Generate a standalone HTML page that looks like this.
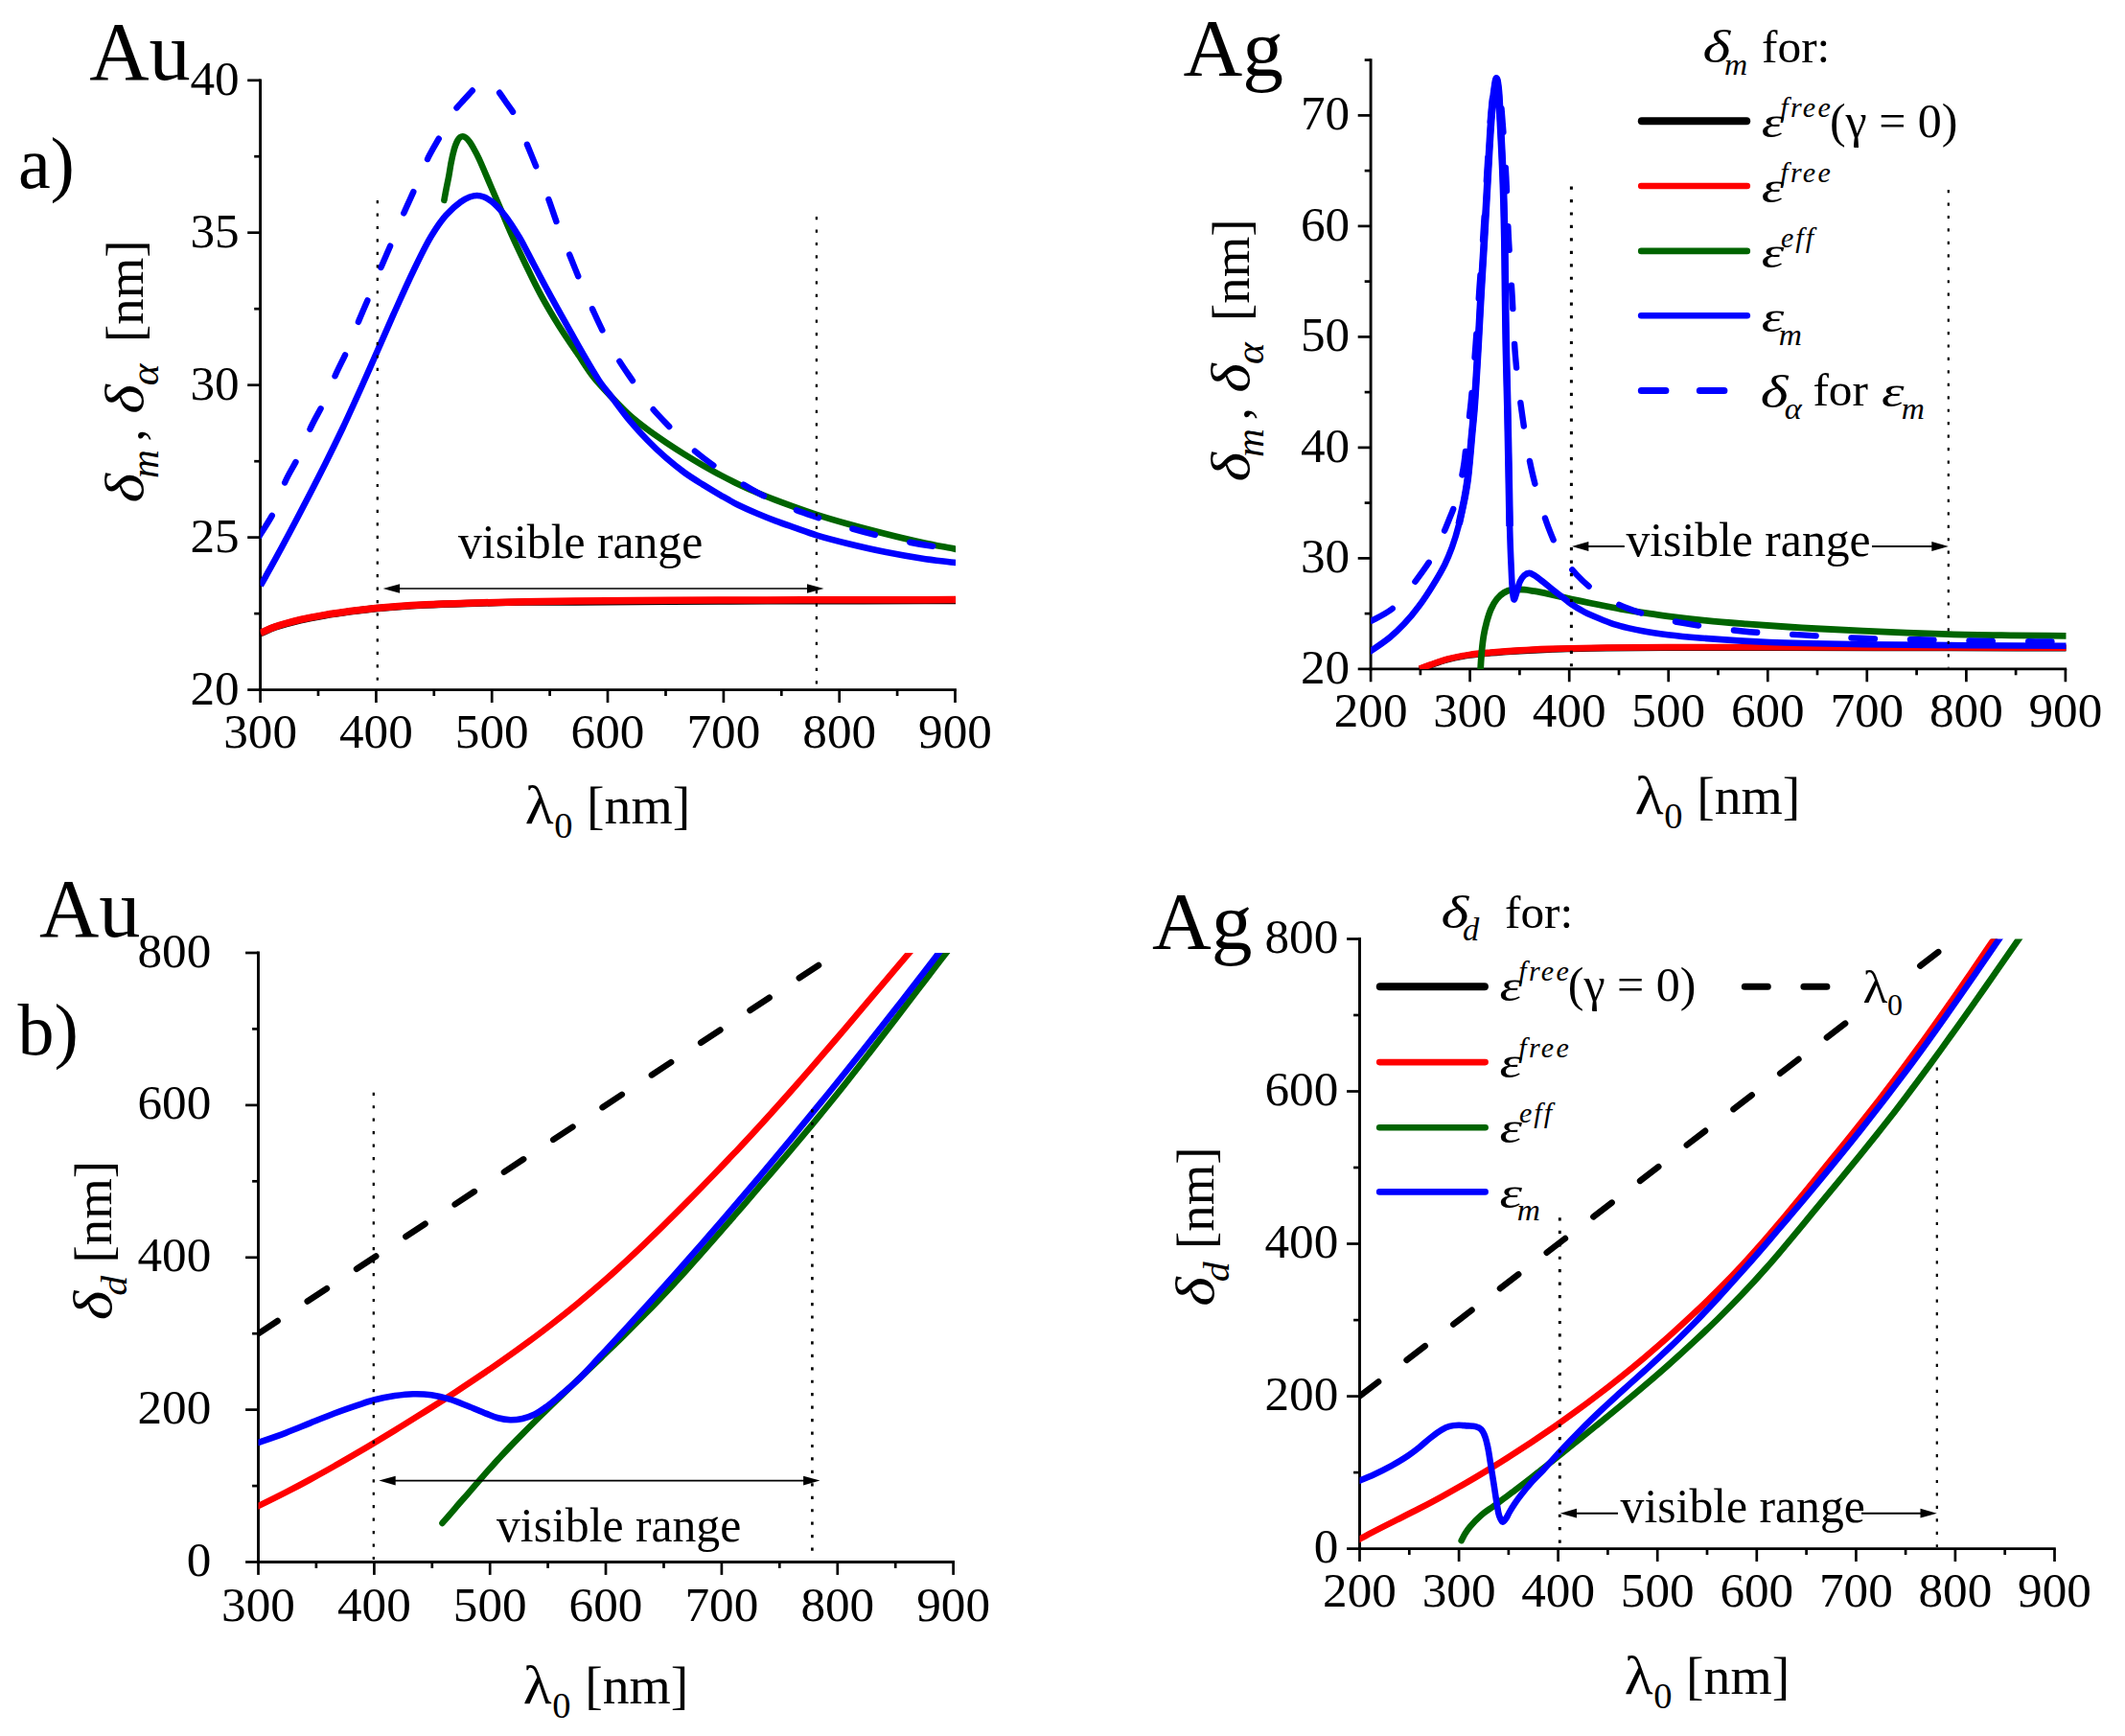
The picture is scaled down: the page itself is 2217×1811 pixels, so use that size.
<!DOCTYPE html>
<html lang="en">
<head>
<meta charset="utf-8">
<title>Penetration depths for Au and Ag</title>
<style>
html,body{margin:0;padding:0;background:#fff;}
body{width:2217px;height:1811px;overflow:hidden;}
svg{display:block;}
text{white-space:pre;}
</style>
</head>
<body>
<svg xmlns="http://www.w3.org/2000/svg" width="2217" height="1811" viewBox="0 0 2217 1811" font-family="'Liberation Serif', 'Times New Roman', serif" fill="#000">
<rect width="2217" height="1811" fill="#fff"/>
<defs>
<clipPath id="clip1"><rect x="271.6" y="83.8" width="725.5" height="635.9"/></clipPath>
<clipPath id="clip2"><rect x="1430.1" y="62.6" width="725.4" height="635.3"/></clipPath>
<clipPath id="clip3"><rect x="269.5" y="994" width="725.7" height="635.5"/></clipPath>
<clipPath id="clip4"><rect x="1418.5" y="979.5" width="725.6" height="636.1"/></clipPath>
</defs>
<line x1="271.6" y1="82.4" x2="271.6" y2="721.1" stroke="#000000" stroke-width="2.9" />
<line x1="270.2" y1="719.6" x2="997.9" y2="719.6" stroke="#000000" stroke-width="2.9" />
<line x1="271.6" y1="719.6" x2="271.6" y2="733" stroke="#000000" stroke-width="2.7" />
<text x="271.6" y="780.4" font-size="51.2" text-anchor="middle"  >300</text>
<line x1="392.4" y1="719.6" x2="392.4" y2="733" stroke="#000000" stroke-width="2.7" />
<text x="392.4" y="780.4" font-size="51.2" text-anchor="middle"  >400</text>
<line x1="513.2" y1="719.6" x2="513.2" y2="733" stroke="#000000" stroke-width="2.7" />
<text x="513.2" y="780.4" font-size="51.2" text-anchor="middle"  >500</text>
<line x1="634" y1="719.6" x2="634" y2="733" stroke="#000000" stroke-width="2.7" />
<text x="634" y="780.4" font-size="51.2" text-anchor="middle"  >600</text>
<line x1="754.9" y1="719.6" x2="754.9" y2="733" stroke="#000000" stroke-width="2.7" />
<text x="754.9" y="780.4" font-size="51.2" text-anchor="middle"  >700</text>
<line x1="875.7" y1="719.6" x2="875.7" y2="733" stroke="#000000" stroke-width="2.7" />
<text x="875.7" y="780.4" font-size="51.2" text-anchor="middle"  >800</text>
<line x1="996.5" y1="719.6" x2="996.5" y2="733" stroke="#000000" stroke-width="2.7" />
<text x="996.5" y="780.4" font-size="51.2" text-anchor="middle"  >900</text>
<line x1="332" y1="719.6" x2="332" y2="726" stroke="#000000" stroke-width="2.7" />
<line x1="452.8" y1="719.6" x2="452.8" y2="726" stroke="#000000" stroke-width="2.7" />
<line x1="573.6" y1="719.6" x2="573.6" y2="726" stroke="#000000" stroke-width="2.7" />
<line x1="694.5" y1="719.6" x2="694.5" y2="726" stroke="#000000" stroke-width="2.7" />
<line x1="815.3" y1="719.6" x2="815.3" y2="726" stroke="#000000" stroke-width="2.7" />
<line x1="936.1" y1="719.6" x2="936.1" y2="726" stroke="#000000" stroke-width="2.7" />
<line x1="258.2" y1="719.6" x2="271.6" y2="719.6" stroke="#000000" stroke-width="2.7" />
<text x="249.6" y="734.8" font-size="51.2" text-anchor="end"  >20</text>
<line x1="258.2" y1="560.6" x2="271.6" y2="560.6" stroke="#000000" stroke-width="2.7" />
<text x="249.6" y="575.8" font-size="51.2" text-anchor="end"  >25</text>
<line x1="258.2" y1="401.7" x2="271.6" y2="401.7" stroke="#000000" stroke-width="2.7" />
<text x="249.6" y="416.9" font-size="51.2" text-anchor="end"  >30</text>
<line x1="258.2" y1="242.7" x2="271.6" y2="242.7" stroke="#000000" stroke-width="2.7" />
<text x="249.6" y="257.9" font-size="51.2" text-anchor="end"  >35</text>
<line x1="258.2" y1="83.8" x2="271.6" y2="83.8" stroke="#000000" stroke-width="2.7" />
<text x="249.6" y="99" font-size="51.2" text-anchor="end"  >40</text>
<line x1="265.2" y1="640.1" x2="271.6" y2="640.1" stroke="#000000" stroke-width="2.7" />
<line x1="265.2" y1="481.2" x2="271.6" y2="481.2" stroke="#000000" stroke-width="2.7" />
<line x1="265.2" y1="322.2" x2="271.6" y2="322.2" stroke="#000000" stroke-width="2.7" />
<line x1="265.2" y1="163.2" x2="271.6" y2="163.2" stroke="#000000" stroke-width="2.7" />
<path d="M271.8,660.6 C277,658.4 281.4,656.2 287.3,654.1 C294.8,651.5 304.7,648.9 313.4,646.8 C322.1,644.8 330.8,643.3 339.5,641.8 C348.2,640.3 356.9,639.1 365.6,637.9 C374.3,636.7 381.5,635.8 391.7,634.8 C406.1,633.4 426.6,632 444,631.1 C461.4,630.2 478.8,629.8 496.2,629.3 C513.6,628.8 531,628.3 548.4,628.1 C565.6,627.9 580,628.1 600,628 C627.9,627.9 666.7,627.5 700,627.3 C733.3,627.1 766.7,627 800,626.9 C833.3,626.8 866.9,626.8 900,626.7 C932.7,626.7 965,626.6 997.5,626.6" fill="none" stroke="#000000" stroke-width="7.4" stroke-linejoin="round" stroke-linecap="butt" clip-path="url(#clip1)"/>
<path d="M271.8,660.2 C277,658 281.4,655.8 287.3,653.7 C294.8,651.1 304.7,648.5 313.4,646.4 C322.1,644.4 330.8,642.9 339.5,641.4 C348.2,639.9 356.9,638.7 365.6,637.5 C374.3,636.3 381.5,635.4 391.7,634.4 C406.1,633 426.6,631.6 444,630.7 C461.4,629.8 478.8,629.4 496.2,628.9 C513.6,628.4 531,628 548.4,627.7 C565.6,627.4 580,627.2 600,627 C627.9,626.7 666.7,626.5 700,626.3 C733.3,626.1 766.7,626 800,625.9 C833.3,625.8 866.9,625.8 900,625.7 C932.7,625.7 965,625.6 997.5,625.6" fill="none" stroke="#ff0000" stroke-width="7.5" stroke-linejoin="round" stroke-linecap="butt" clip-path="url(#clip1)"/>
<path d="M463.4,208.8 C464.1,204.9 464.8,201 465.6,197 C466.4,192.8 467.4,188.4 468.2,184.1 C469,179.8 469.6,175.2 470.4,171 C471.2,167 472,162.9 472.9,159.4 C473.6,156.5 474.3,153.9 475.2,151.5 C476,149.5 476.8,147.5 477.7,146 C478.4,144.9 479.1,143.8 480,143.2 C480.8,142.6 481.8,142.2 482.8,142.2 C483.8,142.2 485,142.9 486,143.6 C487.4,144.6 488.7,146.2 490,147.9 C491.6,150 493,152.8 494.5,155.5 C496.2,158.5 497.6,161.1 499.5,165.1 C502.6,171.7 507.2,182.8 511,191.7 C514.8,200.6 518.6,209.4 522.4,218.3 C526.2,227.2 529.6,235.6 533.8,244.9 C538.4,255.2 543.9,266.6 549,277.2 C554,287.5 558.7,297.4 564.2,307.6 C570,318.3 576.7,329.6 583.2,340 C589.4,349.9 596,359.4 602.2,368.5 C608,377 612.9,385.5 619,393.2 C624.9,400.7 631.6,407.4 638,414.1 C644.3,420.7 650.5,427.4 657,433.2 C663.2,438.7 669.6,443.6 676,448.4 C682.3,453.1 688.7,457.4 695.1,461.7 C701.4,465.9 707.7,470 714.1,474 C720.4,477.9 726.7,481.7 733.1,485.4 C739.4,489 745.7,492.6 752.1,495.9 C758.4,499.2 764.7,502.4 771.1,505.4 C777.4,508.4 783.7,511.3 790.1,514 C796.4,516.7 802.7,519.2 809.1,521.6 C815.4,524 821.4,526.2 828.1,528.6 C835.6,531.3 843.3,534 851.9,536.8 C862,540.1 873.7,543.5 885.2,546.7 C897.4,550.1 910.5,553.5 923.2,556.7 C935.8,559.9 948.7,563 961.2,565.7 C973.4,568.4 985.4,570.5 997.5,572.9" fill="none" stroke="#006400" stroke-width="6.6" stroke-linejoin="round" stroke-linecap="round" clip-path="url(#clip1)"/>
<path d="M271.8,611 C277,601.7 281.5,593.8 287.3,583.2 C294.9,569.2 304.8,550.7 313.4,534.2 C322.2,517.5 331.6,499.2 339.5,483.5 C346.2,470.1 351.6,459 357.8,446 C364.4,432 371.7,415.8 377.9,402 C383.4,389.8 387.9,379.4 393.1,367.6 C398.6,355 404.2,342.2 410.2,328.7 C416.8,314.1 424.1,297.4 431.1,283 C437.4,269.9 443.7,256.5 450.1,246 C455.2,237.7 459.9,230.6 465.3,224.5 C470.1,219.1 475.8,214 480.5,210.7 C483.9,208.3 486.9,206.6 490,205.5 C492.6,204.6 495.1,204 497.6,204 C500.1,204 502.6,204.6 505,205.5 C507.7,206.5 510.1,208 512.9,210.2 C517,213.4 521.9,218.6 526.2,224 C531.4,230.5 536.5,238.6 541.4,246.8 C546.7,255.6 551.5,265.8 556.6,275.3 C561.7,284.8 566.4,293.9 571.8,303.8 C577.7,314.7 584.6,327 590.8,338.1 C596.6,348.5 602.1,358.6 607.9,368.5 C613.5,378.2 619.5,388.8 625,397 C629.4,403.6 633.3,407.9 638,414.1 C643.7,421.6 650.5,431.1 657,438.9 C663.2,446.3 669.5,453.2 676,459.8 C682.2,466.2 688.6,472.2 695.1,477.8 C701.3,483.2 707.7,488.3 714.1,493 C720.3,497.5 726.7,501.4 733.1,505.4 C739.4,509.3 745.7,513.1 752.1,516.8 C758.4,520.4 764.7,524.1 771.1,527.3 C777.4,530.4 783.7,533.1 790.1,535.8 C796.4,538.5 802.7,541 809.1,543.4 C815.4,545.8 821.4,547.8 828.1,550.1 C835.6,552.7 843.3,555.7 851.9,558.3 C862,561.4 873.7,564.4 885.2,567.2 C897.4,570.2 910.5,573.2 923.2,575.7 C935.8,578.2 948.7,580.5 961.2,582.4 C973.4,584.3 985.4,585.5 997.5,587.1" fill="none" stroke="#0000ff" stroke-width="6.6" stroke-linejoin="round" stroke-linecap="butt" clip-path="url(#clip1)"/>
<path d="M268,563.5 C269.3,561.4 270.1,560 271.8,557.3 C275,552 281.8,542.3 286,533.6 C290.6,524.1 293.3,511.9 297.7,502.2 C301.7,493.3 306.5,486.4 310.8,477.4 C315.7,467.2 320.3,454.2 325.2,444 C329.5,435 334.1,427.8 338.2,419.1 C342.5,410.1 346.1,399.9 350.2,390.8 C354.1,382.1 358.3,374.5 362.2,365.6 C366.5,355.8 370.5,344.2 374.5,334.3 C378.2,325.3 381.7,317.5 385.4,308.6 C389.4,298.9 393.7,287.9 397.8,278.2 C401.6,269.2 405.2,261.2 409,252.2 C413.1,242.4 417.5,231.2 421.7,221.4 C425.6,212.4 429.4,204.7 433.3,195.7 C437.6,186 441.8,174.6 446.4,165.2 C450.5,156.8 454.9,149.9 459.4,141.8 C464.3,133.1 470,121.5 474.8,114.7 C478,110.2 480.9,107.7 484,104.2 C487.1,100.7 490.5,96.9 493.5,93.8 C496.1,91.2 498.5,88.4 501,86.8 C502.9,85.6 504.7,84.7 506.5,84.6 C508.2,84.5 509.8,85 511.5,86 C514.1,87.6 516.9,91.5 519.5,94.7 C522.4,98.3 525.2,102.7 528,106.8 C530.9,110.9 533.7,114.1 536.6,119.4 C540.9,127.4 545.8,140.8 549.9,150.8 C553.6,159.8 556.8,167.4 560.4,176.5 C564.4,186.6 569,198.6 572.7,208.8 C576,217.8 578.3,225.5 581.7,234.5 C585.5,244.7 590.5,256.7 594.6,266.8 C598.2,275.8 601.3,283.5 605,292.4 C609.1,302.1 614,313.4 618.3,322.9 C622.1,331.2 625.2,338.1 629.3,346.2 C633.9,355.2 639.4,365.5 644.7,374.2 C649.6,382.3 654.6,389.2 659.9,397 C665.6,405.3 671.6,414.8 677.9,422.7 C683.7,430 689.6,436 696,442.7 C702.9,449.9 710.3,457.7 717.9,464.5 C725.5,471.3 733.2,477.4 741.6,483.5 C750.3,489.8 760,496 769.2,501.6 C778.1,507 786.7,512.2 795.8,516.8 C805,521.5 814.8,525.8 824.3,529.6 C833.5,533.3 842.4,536.3 851.9,539.6 C862,543.1 873.1,546.7 883.3,549.8 C893,552.7 902.1,555.2 911.8,557.6 C921.7,560.1 932.1,562.4 942.2,564.4 C952.1,566.4 962.2,568.1 971.7,569.6 C980.6,571 988.9,572 997.5,573.2" fill="none" stroke="#0000ff" stroke-width="6.4" stroke-linejoin="round" stroke-dasharray="24.5 37" stroke-linecap="round" stroke-dashoffset="-5.5" clip-path="url(#clip1)"/>
<line x1="393.8" y1="209" x2="393.8" y2="718.1" stroke="#000" stroke-width="2.3" stroke-dasharray="3.2 10.25"/>
<line x1="851.9" y1="226" x2="851.9" y2="718.1" stroke="#000" stroke-width="2.3" stroke-dasharray="3.2 10.25"/>
<line x1="410" y1="614" x2="850" y2="614" stroke="#000000" stroke-width="1.6" />
<polygon points="399.6,614 417.1,609.2 417.1,618.8" fill="#000"/>
<polygon points="859.5,614 842,609.2 842,618.8" fill="#000"/>
<text x="478" y="582.4" font-size="49.7" text-anchor="start"  >visible range</text>
<text x="93.3" y="83.2" font-size="86.3" text-anchor="start"  >Au</text>
<text x="18.9" y="196" font-size="76" text-anchor="start"  >a)</text>
<text transform="translate(547.7,858.8) scale(1.090,1)" font-size="56.5">λ</text>
<text x="578.2" y="874.1" font-size="38.5">0</text>
<text x="612.1" y="858.8" font-size="55.6">[nm]</text>
<g transform="translate(149.3,522.1) rotate(-90)">
<text transform="translate(-2.4,0) scale(1.170,1)" font-size="56" font-style="italic">δ</text>
<text transform="translate(23.1,15.2) scale(1.060,1)" font-size="39" font-style="italic">m</text>
<text x="61.7" y="0" font-size="52">,</text>
<text transform="translate(90.3,0) scale(1.170,1)" font-size="56" font-style="italic">δ</text>
<text transform="translate(119.9,15.2) scale(1.080,1)" font-size="40" font-style="italic">α</text>
<text x="165.1" y="0" font-size="54.8">[nm]</text>
</g>
<line x1="1430.1" y1="61.2" x2="1430.1" y2="699.4" stroke="#000000" stroke-width="2.9" />
<line x1="1428.6" y1="697.9" x2="2156.2" y2="697.9" stroke="#000000" stroke-width="2.9" />
<line x1="1430.1" y1="697.9" x2="1430.1" y2="711.3" stroke="#000000" stroke-width="2.7" />
<text x="1430.1" y="758.3" font-size="51.2" text-anchor="middle"  >200</text>
<line x1="1533.6" y1="697.9" x2="1533.6" y2="711.3" stroke="#000000" stroke-width="2.7" />
<text x="1533.6" y="758.3" font-size="51.2" text-anchor="middle"  >300</text>
<line x1="1637.2" y1="697.9" x2="1637.2" y2="711.3" stroke="#000000" stroke-width="2.7" />
<text x="1637.2" y="758.3" font-size="51.2" text-anchor="middle"  >400</text>
<line x1="1740.7" y1="697.9" x2="1740.7" y2="711.3" stroke="#000000" stroke-width="2.7" />
<text x="1740.7" y="758.3" font-size="51.2" text-anchor="middle"  >500</text>
<line x1="1844.3" y1="697.9" x2="1844.3" y2="711.3" stroke="#000000" stroke-width="2.7" />
<text x="1844.3" y="758.3" font-size="51.2" text-anchor="middle"  >600</text>
<line x1="1947.8" y1="697.9" x2="1947.8" y2="711.3" stroke="#000000" stroke-width="2.7" />
<text x="1947.8" y="758.3" font-size="51.2" text-anchor="middle"  >700</text>
<line x1="2051.4" y1="697.9" x2="2051.4" y2="711.3" stroke="#000000" stroke-width="2.7" />
<text x="2051.4" y="758.3" font-size="51.2" text-anchor="middle"  >800</text>
<line x1="2154.9" y1="697.9" x2="2154.9" y2="711.3" stroke="#000000" stroke-width="2.7" />
<text x="2154.9" y="758.3" font-size="51.2" text-anchor="middle"  >900</text>
<line x1="1481.9" y1="697.9" x2="1481.9" y2="704.3" stroke="#000000" stroke-width="2.7" />
<line x1="1585.4" y1="697.9" x2="1585.4" y2="704.3" stroke="#000000" stroke-width="2.7" />
<line x1="1689" y1="697.9" x2="1689" y2="704.3" stroke="#000000" stroke-width="2.7" />
<line x1="1792.5" y1="697.9" x2="1792.5" y2="704.3" stroke="#000000" stroke-width="2.7" />
<line x1="1896" y1="697.9" x2="1896" y2="704.3" stroke="#000000" stroke-width="2.7" />
<line x1="1999.6" y1="697.9" x2="1999.6" y2="704.3" stroke="#000000" stroke-width="2.7" />
<line x1="2103.1" y1="697.9" x2="2103.1" y2="704.3" stroke="#000000" stroke-width="2.7" />
<line x1="1416.7" y1="697.9" x2="1430.1" y2="697.9" stroke="#000000" stroke-width="2.7" />
<text x="1408.2" y="712.6" font-size="51.2" text-anchor="end"  >20</text>
<line x1="1416.7" y1="582.4" x2="1430.1" y2="582.4" stroke="#000000" stroke-width="2.7" />
<text x="1408.2" y="597.1" font-size="51.2" text-anchor="end"  >30</text>
<line x1="1416.7" y1="466.9" x2="1430.1" y2="466.9" stroke="#000000" stroke-width="2.7" />
<text x="1408.2" y="481.6" font-size="51.2" text-anchor="end"  >40</text>
<line x1="1416.7" y1="351.4" x2="1430.1" y2="351.4" stroke="#000000" stroke-width="2.7" />
<text x="1408.2" y="366.1" font-size="51.2" text-anchor="end"  >50</text>
<line x1="1416.7" y1="235.9" x2="1430.1" y2="235.9" stroke="#000000" stroke-width="2.7" />
<text x="1408.2" y="250.6" font-size="51.2" text-anchor="end"  >60</text>
<line x1="1416.7" y1="120.4" x2="1430.1" y2="120.4" stroke="#000000" stroke-width="2.7" />
<text x="1408.2" y="135.1" font-size="51.2" text-anchor="end"  >70</text>
<line x1="1423.7" y1="640.1" x2="1430.1" y2="640.1" stroke="#000000" stroke-width="2.7" />
<line x1="1423.7" y1="524.6" x2="1430.1" y2="524.6" stroke="#000000" stroke-width="2.7" />
<line x1="1423.7" y1="409.1" x2="1430.1" y2="409.1" stroke="#000000" stroke-width="2.7" />
<line x1="1423.7" y1="293.6" x2="1430.1" y2="293.6" stroke="#000000" stroke-width="2.7" />
<line x1="1423.7" y1="178.1" x2="1430.1" y2="178.1" stroke="#000000" stroke-width="2.7" />
<line x1="1423.7" y1="62.6" x2="1430.1" y2="62.6" stroke="#000000" stroke-width="2.7" />
<path d="M1481,698.1 C1484.8,696.7 1488.1,695.4 1492.3,694 C1497.6,692.1 1504,689.6 1510.4,688 C1517.5,686.1 1525.4,684.6 1533,683.5 C1540.5,682.3 1547.4,681.9 1555.5,681.2 C1564.8,680.3 1575.6,679.6 1585.7,679 C1595.7,678.3 1606.4,677.8 1615.8,677.5 C1624.1,677.1 1630.7,677 1639.4,676.8 C1650.3,676.5 1662.1,676.2 1676,676.1 C1694.4,675.8 1715.8,675.7 1740,675.7 C1771.7,675.6 1810.5,675.6 1850,675.7 C1896.1,675.7 1949.5,675.8 2000,675.9 C2051.5,675.9 2104,676 2156,676.1" fill="none" stroke="#000000" stroke-width="6.8" stroke-linejoin="round" stroke-linecap="butt" clip-path="url(#clip2)"/>
<path d="M1481,697.6 C1484.8,696.2 1488.1,695 1492.3,693.5 C1497.6,691.7 1504,689.2 1510.4,687.5 C1517.5,685.6 1525.4,684.1 1533,683 C1540.5,681.9 1547.4,681.4 1555.5,680.7 C1564.8,679.9 1575.6,679.1 1585.7,678.5 C1595.7,677.9 1606.4,677.4 1615.8,677 C1624.1,676.7 1630.7,676.5 1639.4,676.3 C1650.3,676 1662.1,675.8 1676,675.6 C1694.4,675.4 1715.8,675.3 1740,675.2 C1771.7,675.1 1810.5,675.2 1850,675.2 C1896.1,675.2 1949.5,675.3 2000,675.4 C2051.5,675.5 2104,675.5 2156,675.6" fill="none" stroke="#ff0000" stroke-width="6.8" stroke-linejoin="round" stroke-linecap="butt" clip-path="url(#clip2)"/>
<path d="M1544.5,700 C1544.9,693.6 1545.2,687 1545.8,680.7 C1546.4,674.6 1547,668.3 1548,662.7 C1548.8,657.8 1549.8,653.6 1551,649.1 C1552.3,644.5 1553.6,639.7 1555.5,635.5 C1557.2,631.7 1559.2,628 1561.6,625 C1563.8,622.3 1566.3,619.8 1569.1,618.2 C1571.8,616.6 1574.8,615.7 1578.1,615.2 C1581.8,614.6 1586.3,614.9 1590.2,615.2 C1593.8,615.5 1596.9,616.1 1600.7,616.7 C1605.3,617.5 1610.2,618.5 1615.8,619.7 C1622.8,621.2 1631.7,623.3 1639.4,625 C1646.8,626.6 1653.2,627.9 1661,629.5 C1670.2,631.3 1681.1,633.5 1691.1,635.3 C1701.1,637.1 1712.3,638.8 1721.2,640.1 C1728.2,641.2 1732.6,641.8 1740,642.8 C1750.8,644.2 1766.5,646 1780,647.3 C1793.7,648.7 1806.6,649.7 1821.7,650.9 C1839.5,652.3 1860.2,653.7 1880,654.9 C1900.7,656.1 1920.4,657.2 1943.3,658.2 C1970.6,659.4 2005.1,660.8 2032.8,661.6 C2056.8,662.3 2078.6,662.5 2100,662.8 C2119.5,663.1 2137.3,663.2 2156,663.4" fill="none" stroke="#006400" stroke-width="6.8" stroke-linejoin="round" stroke-linecap="butt" clip-path="url(#clip2)"/>
<path d="M1428,680.4 C1428.6,680 1428.9,679.8 1429.9,679.2 C1433.1,677.1 1444,669.9 1450.1,664.9 C1455.7,660.3 1460.3,655.8 1465.2,650.6 C1470.4,645.1 1475.4,639 1480.2,632.5 C1485.4,625.5 1490.7,617.4 1495.3,609.9 C1499.7,602.8 1503.9,595.7 1507.3,588.9 C1510.3,582.7 1512.5,577.3 1514.9,570.8 C1517.6,563.4 1520.1,555 1522.2,546.7 C1524.5,538 1526.4,527.9 1528,519.6 C1529.3,512.6 1530.2,507.9 1531.2,500 C1532.7,488.2 1534.2,469.1 1535.4,455.6 C1536.4,444.3 1537.3,436.7 1538.2,424.5 C1539.5,407.3 1540.9,382.5 1542.1,362.2 C1543.2,342.7 1544.1,324.1 1545.2,305 C1546.3,285.7 1547.6,266.7 1548.7,247 C1549.9,226.6 1551,205.3 1552.2,184.5 C1553.4,163.7 1554.6,139 1556,122 C1557,110.2 1558.1,99.3 1559.2,92 C1559.9,87.7 1560.6,81.8 1561.3,81.8 C1562,81.8 1562.7,87.7 1563.2,92 C1564.1,99.3 1564.4,110.2 1565,122 C1565.9,139 1567.2,163.2 1568,184 C1568.8,204.9 1569.3,226.1 1569.7,247 C1570.1,267.7 1570.2,289.1 1570.5,309 C1570.8,327.4 1570.9,343.8 1571.3,362.2 C1571.7,382.1 1572.3,403.7 1572.8,424.5 C1573.2,445.2 1573.6,466 1574,486.7 C1574.4,507.4 1574.6,530.3 1575.1,548.9 C1575.5,564.1 1576,578.3 1576.6,590.4 C1577,599.8 1577.3,609 1578,615.5 C1578.4,619.6 1578.8,625.4 1579.6,625.5 C1580.2,625.6 1581.1,621.9 1581.9,619.5 C1583.1,616.1 1584.1,610.3 1585.7,606.9 C1587,604.2 1588.4,601.7 1590.2,600.2 C1591.7,598.9 1593.7,597.9 1595.5,597.9 C1597.2,597.9 1598.8,599.1 1600.7,600.2 C1603.4,601.8 1606.6,604.4 1609.8,606.9 C1613.6,609.8 1618.1,613.8 1621.8,616.7 C1625,619.2 1627.8,621.2 1630.8,623.5 C1633.7,625.8 1636.1,628 1639.4,630.3 C1643.4,633.1 1648.6,636.1 1653.4,638.6 C1658.3,641.1 1663.4,643.2 1668.5,645.3 C1673.5,647.4 1678.5,649.5 1683.6,651.1 C1688.6,652.7 1693.6,653.9 1698.6,655.1 C1703.6,656.3 1708,657.3 1713.7,658.3 C1721.2,659.7 1730.7,661.1 1740,662.3 C1750.4,663.6 1759.8,664.5 1773,665.5 C1792.6,667.1 1819.9,668.9 1846,670 C1876.1,671.3 1910.1,671.7 1943.3,672.2 C1978,672.8 2014.5,672.9 2050,673.2 C2085.4,673.4 2120.7,673.5 2156,673.7" fill="none" stroke="#0000ff" stroke-width="6.6" stroke-linejoin="round" stroke-linecap="butt" clip-path="url(#clip2)"/>
<path d="M1522.2,546.7 C1524.1,537.7 1526.4,527.9 1528,519.6 C1529.3,512.6 1530.2,507.9 1531.2,500 C1532.7,488.2 1534.2,469.1 1535.4,455.6 C1536.4,444.3 1537.3,436.7 1538.2,424.5 C1539.5,407.3 1540.9,382.5 1542.1,362.2 C1543.2,342.7 1544.1,324.1 1545.2,305 C1546.3,285.7 1547.6,266.7 1548.7,247 C1549.9,226.6 1551,205.3 1552.2,184.5 C1553.4,163.7 1554.6,139 1556,122 C1557,110.2 1558.1,99.3 1559.2,92 C1559.9,87.7 1560.6,81.8 1561.3,81.8 C1562,81.8 1562.7,87.7 1563.2,92 C1564.1,99.3 1564.4,110.2 1565,122 C1565.9,139 1567.2,163.2 1568,184 C1568.8,204.9 1569.3,226.1 1569.7,247 C1570.1,267.7 1570.2,289.1 1570.5,309 C1570.8,327.4 1570.9,343.8 1571.3,362.2 C1571.7,382.1 1572.3,403.7 1572.8,424.5 C1573.2,445.2 1573.6,466 1574,486.7 C1574.4,507.4 1574.7,528.2 1575.1,548.9" fill="none" stroke="#0000ff" stroke-width="7.6" stroke-linejoin="round" stroke-linecap="butt" clip-path="url(#clip2)"/>
<path d="M1425.5,650.8 C1427,650 1427.9,649.4 1429.9,648.3 C1434.3,645.8 1445.1,640.7 1450.9,636.3 C1455.8,632.6 1459.3,628.7 1463,624.5 C1466.8,620.2 1469.6,616 1473.5,610.7 C1478.6,603.8 1486.2,593.9 1490.8,586.6 C1494.4,580.9 1496.9,576.3 1499.5,571 C1502.1,565.8 1504.3,560.1 1506.5,555 C1508.5,550.3 1510.2,546 1512,541.5 C1513.7,537.1 1515.5,533.4 1517.1,528.5 C1519.2,522.3 1521.3,514.4 1523,507 C1524.8,499.3 1526.2,491.5 1527.5,483 C1528.9,473.4 1529.6,462.4 1530.8,452 C1532,441.4 1533.4,432.3 1534.6,420 C1536.3,403.1 1538,380 1539.5,360 C1541,340 1542.2,319.4 1543.5,300 C1544.8,281.8 1546.1,265.4 1547.3,247 C1548.6,227 1549.8,205.3 1551.1,184.5 C1552.4,163.7 1553.6,139 1555.1,122 C1556.1,110.2 1557.1,99.3 1558.5,92 C1559.3,87.7 1560.4,85.2 1561.3,81.8" fill="none" stroke="#0000ff" stroke-width="6.4" stroke-linejoin="round" stroke-dasharray="24.5 37" stroke-linecap="round" stroke-dashoffset="-7" clip-path="url(#clip2)"/>
<path d="M1561.3,81.8 C1562.3,85.2 1563.5,87.7 1564.3,92 C1565.7,99.3 1566.2,110.2 1567.2,122 C1568.6,138.9 1570.2,163.2 1571.3,184 C1572.4,205.2 1572.8,226.8 1573.9,248 C1575,268.8 1576.5,289.4 1577.7,310 C1578.9,330.5 1579.3,351.1 1581,371.5 C1582.7,391.8 1585.1,411.9 1588,432 C1590.9,452.1 1593.7,472.3 1598.3,492 C1602.8,511.6 1609.4,534.1 1615.2,549.7 C1619.4,560.8 1622.9,569 1628,577.5 C1632.8,585.5 1638.4,592.6 1644.8,599.4 C1651.6,606.6 1659.3,613.7 1668,619.5 C1677.2,625.6 1688.4,630.7 1698.6,634.8 C1708.1,638.6 1717.3,641.2 1727,643.8 C1736.8,646.4 1745.3,648.1 1757.2,650.2 C1773.9,653.1 1797.6,656.5 1818,658.5 C1838.4,660.5 1859,661.2 1879.4,662.4 C1899.6,663.6 1919.4,665 1939.6,665.8 C1960,666.6 1980.6,666.8 2001.1,667.3 C2021.4,667.8 2041.7,668.3 2062,668.6 C2082.4,669 2106.1,669.2 2123.4,669.4 C2136,669.5 2145.1,669.6 2156,669.7" fill="none" stroke="#0000ff" stroke-width="6.4" stroke-linejoin="round" stroke-dasharray="24.5 37" stroke-linecap="round" stroke-dashoffset="29.3" clip-path="url(#clip2)"/>
<line x1="1639.4" y1="194.5" x2="1639.4" y2="696.4" stroke="#000" stroke-width="3" stroke-dasharray="3.2 10.25"/>
<line x1="2032.8" y1="198" x2="2032.8" y2="696.4" stroke="#000" stroke-width="2.2" stroke-dasharray="3.2 10.25"/>
<line x1="1652" y1="570" x2="1694.8" y2="570" stroke="#000000" stroke-width="2" />
<polygon points="1639.9,570 1657.4,565.1 1657.4,574.9" fill="#000"/>
<line x1="1953" y1="570" x2="2020" y2="570" stroke="#000000" stroke-width="2" />
<polygon points="2032.8,570 2015.3,565.1 2015.3,574.9" fill="#000"/>
<text x="1696.4" y="579.8" font-size="49.7" text-anchor="start"  >visible range</text>
<text x="1234.6" y="79.1" font-size="85.5" text-anchor="start"  >Ag</text>
<text transform="translate(1705.8,848.8) scale(1.090,1)" font-size="56.5">λ</text>
<text x="1736.3" y="864.1" font-size="38.5">0</text>
<text x="1770.2" y="848.8" font-size="55.6">[nm]</text>
<g transform="translate(1302.9,500) rotate(-90)">
<text transform="translate(-2.4,0) scale(1.170,1)" font-size="56" font-style="italic">δ</text>
<text transform="translate(23.1,15.2) scale(1.060,1)" font-size="39" font-style="italic">m</text>
<text x="61.7" y="0" font-size="52">,</text>
<text transform="translate(90.3,0) scale(1.170,1)" font-size="56" font-style="italic">δ</text>
<text transform="translate(119.9,15.2) scale(1.080,1)" font-size="40" font-style="italic">α</text>
<text x="165.1" y="0" font-size="54.8">[nm]</text>
</g>
<line x1="1712.8" y1="126.3" x2="1822.2" y2="126.3" stroke="#000000" stroke-width="8" stroke-linecap="round"/>
<line x1="1712.2" y1="194" x2="1822.8" y2="194" stroke="#ff0000" stroke-width="6.6" stroke-linecap="round"/>
<line x1="1712.2" y1="261.9" x2="1822.8" y2="261.9" stroke="#006400" stroke-width="6.6" stroke-linecap="round"/>
<line x1="1712.2" y1="329.2" x2="1822.8" y2="329.2" stroke="#0000ff" stroke-width="6.6" stroke-linecap="round"/>
<line x1="1712.3" y1="407.5" x2="1800" y2="407.5" stroke="#0000ff" stroke-width="7" stroke-linecap="round" stroke-dasharray="25.6 35.4"/>
<text transform="translate(1776.6,64.6) scale(1.260,1)" font-size="49" font-style="italic">δ</text>
<text transform="translate(1799.1,78.4) scale(1.030,1)" font-size="32.5" font-style="italic">m</text>
<text x="1838.1" y="64.6" font-size="49.3">for:</text>
<text transform="translate(1837.7,143.3) scale(1.300,1)" font-size="46" font-style="italic">ε</text>
<text x="1857.3" y="122.3" font-size="30" font-style="italic" letter-spacing="2.3">free</text>
<text x="1908.9" y="142.8" font-size="50">(γ = 0)</text>
<text transform="translate(1837.7,211.2) scale(1.300,1)" font-size="46" font-style="italic">ε</text>
<text x="1857.3" y="189.9" font-size="30" font-style="italic" letter-spacing="2.3">free</text>
<text transform="translate(1837.7,279.3) scale(1.300,1)" font-size="46" font-style="italic">ε</text>
<text x="1858" y="258.3" font-size="30" font-style="italic" letter-spacing="2">eff</text>
<text transform="translate(1837.7,346.1) scale(1.300,1)" font-size="46" font-style="italic">ε</text>
<text transform="translate(1855.8,359.7) scale(1.030,1)" font-size="32.5" font-style="italic">m</text>
<text transform="translate(1836.7,424.5) scale(1.260,1)" font-size="49" font-style="italic">δ</text>
<text transform="translate(1861.7,437.3) scale(1.100,1)" font-size="31" font-style="italic">α</text>
<text x="1891.4" y="423.4" font-size="49.3">for</text>
<text transform="translate(1963.1,423.6) scale(1.300,1)" font-size="46" font-style="italic">ε</text>
<text transform="translate(1983.7,437) scale(1.030,1)" font-size="32.5" font-style="italic">m</text>
<line x1="269.5" y1="992.6" x2="269.5" y2="1631" stroke="#000000" stroke-width="2.9" />
<line x1="268.1" y1="1629.5" x2="996" y2="1629.5" stroke="#000000" stroke-width="2.9" />
<line x1="269.5" y1="1629.5" x2="269.5" y2="1642.9" stroke="#000000" stroke-width="2.7" />
<text x="269.5" y="1690.5" font-size="51.2" text-anchor="middle"  >300</text>
<line x1="390.4" y1="1629.5" x2="390.4" y2="1642.9" stroke="#000000" stroke-width="2.7" />
<text x="390.4" y="1690.5" font-size="51.2" text-anchor="middle"  >400</text>
<line x1="511.2" y1="1629.5" x2="511.2" y2="1642.9" stroke="#000000" stroke-width="2.7" />
<text x="511.2" y="1690.5" font-size="51.2" text-anchor="middle"  >500</text>
<line x1="632" y1="1629.5" x2="632" y2="1642.9" stroke="#000000" stroke-width="2.7" />
<text x="632" y="1690.5" font-size="51.2" text-anchor="middle"  >600</text>
<line x1="752.9" y1="1629.5" x2="752.9" y2="1642.9" stroke="#000000" stroke-width="2.7" />
<text x="752.9" y="1690.5" font-size="51.2" text-anchor="middle"  >700</text>
<line x1="873.8" y1="1629.5" x2="873.8" y2="1642.9" stroke="#000000" stroke-width="2.7" />
<text x="873.8" y="1690.5" font-size="51.2" text-anchor="middle"  >800</text>
<line x1="994.6" y1="1629.5" x2="994.6" y2="1642.9" stroke="#000000" stroke-width="2.7" />
<text x="994.6" y="1690.5" font-size="51.2" text-anchor="middle"  >900</text>
<line x1="329.9" y1="1629.5" x2="329.9" y2="1635.9" stroke="#000000" stroke-width="2.7" />
<line x1="450.8" y1="1629.5" x2="450.8" y2="1635.9" stroke="#000000" stroke-width="2.7" />
<line x1="571.6" y1="1629.5" x2="571.6" y2="1635.9" stroke="#000000" stroke-width="2.7" />
<line x1="692.5" y1="1629.5" x2="692.5" y2="1635.9" stroke="#000000" stroke-width="2.7" />
<line x1="813.3" y1="1629.5" x2="813.3" y2="1635.9" stroke="#000000" stroke-width="2.7" />
<line x1="934.2" y1="1629.5" x2="934.2" y2="1635.9" stroke="#000000" stroke-width="2.7" />
<line x1="256.1" y1="1629.5" x2="269.5" y2="1629.5" stroke="#000000" stroke-width="2.7" />
<text x="220.3" y="1644" font-size="51.2" text-anchor="end"  >0</text>
<line x1="256.1" y1="1470.6" x2="269.5" y2="1470.6" stroke="#000000" stroke-width="2.7" />
<text x="220.3" y="1485.1" font-size="51.2" text-anchor="end"  >200</text>
<line x1="256.1" y1="1311.8" x2="269.5" y2="1311.8" stroke="#000000" stroke-width="2.7" />
<text x="220.3" y="1326.2" font-size="51.2" text-anchor="end"  >400</text>
<line x1="256.1" y1="1152.9" x2="269.5" y2="1152.9" stroke="#000000" stroke-width="2.7" />
<text x="220.3" y="1167.4" font-size="51.2" text-anchor="end"  >600</text>
<line x1="256.1" y1="994" x2="269.5" y2="994" stroke="#000000" stroke-width="2.7" />
<text x="220.3" y="1008.5" font-size="51.2" text-anchor="end"  >800</text>
<line x1="263.1" y1="1550.1" x2="269.5" y2="1550.1" stroke="#000000" stroke-width="2.7" />
<line x1="263.1" y1="1391.2" x2="269.5" y2="1391.2" stroke="#000000" stroke-width="2.7" />
<line x1="263.1" y1="1232.3" x2="269.5" y2="1232.3" stroke="#000000" stroke-width="2.7" />
<line x1="263.1" y1="1073.4" x2="269.5" y2="1073.4" stroke="#000000" stroke-width="2.7" />
<path d="M266.9,1392.9 L854.6,1006.6" fill="none" stroke="#000000" stroke-width="6.5" stroke-linejoin="round" stroke-dasharray="24.2 37.2" stroke-linecap="round" stroke-dashoffset="-3" clip-path="url(#clip3)"/>
<path d="M266,1572.8 C267.2,1572.2 267.8,1571.9 269.5,1571.1 C274.4,1568.7 288.8,1561.6 298,1556.9 C306.7,1552.5 315,1548.1 323.4,1543.5 C331.9,1538.9 340.3,1534.3 348.7,1529.5 C357.2,1524.7 366.5,1519.3 374,1514.9 C380,1511.4 384.3,1508.8 390.1,1505.4 C396.8,1501.3 404.4,1496.7 412,1492.1 C420.2,1487.1 430.4,1480.7 437.4,1476.3 C442.3,1473.2 445.1,1471.5 450,1468.4 C457,1464 466.9,1457.7 475.3,1452.2 C483.8,1446.6 492.3,1441 500.7,1435.3 C509.2,1429.6 517.6,1423.9 526,1417.9 C534.5,1412 543,1405.9 551.4,1399.7 C559.9,1393.4 568.3,1387.1 576.7,1380.5 C585.2,1373.9 593.7,1367.1 602.1,1360.2 C610.6,1353.2 619.7,1345.5 627.4,1338.8 C634.1,1332.9 639.8,1327.8 646,1322.2 C652.4,1316.3 658.5,1310.7 665.3,1304.3 C673.2,1296.8 682.3,1288 690.7,1279.8 C699.2,1271.5 707.6,1263.1 716,1254.6 C724.5,1246.1 733,1237.4 741.4,1228.7 C749.9,1220 759,1210.5 766.7,1202.3 C773.3,1195.3 778.8,1189.5 785,1182.7 C791.6,1175.6 798.2,1168.4 805.3,1160.5 C813.3,1151.6 822.3,1141.6 830.7,1132 C839.2,1122.4 847.6,1112.7 856,1102.9 C864.5,1093.1 873,1083.2 881.4,1073.3 C889.9,1063.3 898.3,1053.4 906.7,1043.4 C915.2,1033.4 924.4,1022.5 932.1,1013.4 C938.6,1005.7 944.6,998.7 950,992.3 C954.5,987 958.3,982.5 962.5,977.6" fill="none" stroke="#000000" stroke-width="5" stroke-linejoin="round" stroke-linecap="butt" clip-path="url(#clip3)"/>
<path d="M266,1572.8 C267.2,1572.2 267.8,1571.9 269.5,1571.1 C274.4,1568.7 288.8,1561.6 298,1556.9 C306.7,1552.5 315,1548.1 323.4,1543.5 C331.9,1538.9 340.3,1534.3 348.7,1529.5 C357.2,1524.7 366.5,1519.3 374,1514.9 C380,1511.4 384.3,1508.8 390.1,1505.4 C396.8,1501.3 404.4,1496.7 412,1492.1 C420.2,1487.1 430.4,1480.7 437.4,1476.3 C442.3,1473.2 445.1,1471.5 450,1468.4 C457,1464 466.9,1457.7 475.3,1452.2 C483.8,1446.6 492.3,1441 500.7,1435.3 C509.2,1429.6 517.6,1423.9 526,1417.9 C534.5,1412 543,1405.9 551.4,1399.7 C559.9,1393.4 568.3,1387.1 576.7,1380.5 C585.2,1373.9 593.7,1367.1 602.1,1360.2 C610.6,1353.2 619.7,1345.5 627.4,1338.8 C634.1,1332.9 639.8,1327.8 646,1322.2 C652.4,1316.3 658.5,1310.7 665.3,1304.3 C673.2,1296.8 682.3,1288 690.7,1279.8 C699.2,1271.5 707.6,1263.1 716,1254.6 C724.5,1246.1 733,1237.4 741.4,1228.7 C749.9,1220 759,1210.5 766.7,1202.3 C773.3,1195.3 778.8,1189.5 785,1182.7 C791.6,1175.6 798.2,1168.4 805.3,1160.5 C813.3,1151.6 822.3,1141.6 830.7,1132 C839.2,1122.4 847.6,1112.7 856,1102.9 C864.5,1093.1 873,1083.2 881.4,1073.3 C889.9,1063.3 898.3,1053.4 906.7,1043.4 C915.2,1033.4 924.4,1022.5 932.1,1013.4 C938.6,1005.7 944.6,998.7 950,992.3 C954.5,987 958.3,982.5 962.5,977.6" fill="none" stroke="#ff0000" stroke-width="6.6" stroke-linejoin="round" stroke-linecap="butt" clip-path="url(#clip3)"/>
<path d="M461.5,1588.9 C466.1,1583.6 470.9,1578.1 475.4,1572.8 C479.7,1567.8 483.9,1563.1 488.1,1558.3 C492.3,1553.4 496.9,1548.1 500.8,1543.6 C504.1,1539.8 506.6,1536.9 510,1533.1 C514.1,1528.6 518.8,1523.3 523.5,1518.3 C528.4,1513.1 533.8,1507.4 538.7,1502.4 C543.1,1497.8 547.2,1493.8 551.4,1489.5 C555.6,1485.3 559.8,1481.2 564,1477 C568.2,1472.9 571.7,1469.5 576.7,1464.7 C583.7,1457.9 593.6,1448.4 602.1,1440.2 C610.5,1432.1 619.1,1424 627.4,1416 C635.5,1408.1 643.8,1400.2 651.4,1392.6 C658.5,1385.6 665.7,1378.4 671.7,1372.3 C676.4,1367.5 679.3,1364.6 684.4,1359.2 C692.6,1350.6 706.1,1336.1 716,1325.2 C725,1315.4 733,1306.3 741.4,1296.7 C749.9,1287.1 758.3,1277.4 766.7,1267.7 C775.2,1257.9 783.3,1248.4 792.1,1238.2 C801.7,1227.1 813.1,1213.8 822,1203.3 C829.2,1194.8 835.5,1187.4 841.5,1180.2 C846.7,1174 850.5,1169.4 856,1162.7 C863.3,1153.7 873,1141.8 881.4,1131.2 C889.9,1120.5 898.3,1109.7 906.7,1098.9 C915.2,1087.9 923.7,1076.9 932.1,1065.9 C940.6,1054.9 949,1043.8 957.4,1032.8 C965.8,1021.8 977.3,1006.9 982.7,999.8 C985.3,996.4 986.3,995.2 988.4,992.4 C991.2,988.8 994.8,984.1 998,980" fill="none" stroke="#006400" stroke-width="6.6" stroke-linejoin="round" stroke-linecap="round" clip-path="url(#clip3)"/>
<path d="M266,1506.1 C267.2,1505.7 267.8,1505.5 269.5,1504.9 C274.4,1503.2 288.8,1498.3 298,1494.8 C306.7,1491.5 314.9,1488 323.4,1484.6 C331.8,1481.2 340.2,1477.7 348.7,1474.5 C357.1,1471.3 366.5,1468.1 374,1465.6 C380,1463.6 384.3,1462 390.1,1460.5 C396.8,1458.8 404.9,1457.2 412,1456.1 C418.6,1455.1 424.7,1454.3 431.1,1454.2 C437.4,1454.1 443.8,1454.3 450.1,1455.2 C456.4,1456.1 462.8,1457.7 469,1459.6 C475.4,1461.5 481.7,1464.3 488,1466.8 C494.4,1469.3 501.3,1472.4 507,1474.6 C511.6,1476.4 515.4,1478.2 519.7,1479.3 C523.9,1480.4 528.2,1481.1 532.4,1481.2 C536.6,1481.3 540.8,1480.8 545,1479.9 C549.3,1479 553.6,1477.5 557.7,1475.5 C562.1,1473.4 566.3,1470.3 570.4,1467.3 C574.7,1464.2 578.4,1461 583,1457.1 C588.7,1452.3 595.4,1446.8 602.1,1440.4 C610.1,1432.7 619.2,1422.3 627.4,1413.6 C635.2,1405.3 643.2,1396.6 650,1389.2 C655.6,1383.2 659.7,1378.7 665.3,1372.5 C672.1,1365 680.1,1356.3 688,1347.5 C696.9,1337.6 706.9,1326.3 716,1316 C724.7,1306.2 733,1296.7 741.4,1287 C749.9,1277.3 758.3,1267.5 766.7,1257.7 C775.2,1247.8 783.6,1237.8 792.1,1227.8 C800.6,1217.7 810.3,1206.1 817.6,1197.3 C823.1,1190.7 826.6,1186.5 832,1179.9 C839,1171.4 847.9,1160.6 856,1150.6 C864.4,1140.4 873,1129.7 881.4,1119.2 C889.9,1108.7 898.3,1098.2 906.7,1087.5 C915.2,1076.9 923.7,1066.1 932.1,1055.3 C940.6,1044.5 949.2,1033.4 957.4,1022.8 C965.1,1012.8 973.6,1001.8 979.8,993.7 C984.2,988 987.3,983.9 991,979" fill="none" stroke="#0000ff" stroke-width="6.6" stroke-linejoin="round" stroke-linecap="butt" clip-path="url(#clip3)"/>
<line x1="389.8" y1="1139.7" x2="389.8" y2="1628" stroke="#000" stroke-width="2.3" stroke-dasharray="3.2 10.25"/>
<line x1="847.4" y1="1157.2" x2="847.4" y2="1628" stroke="#000" stroke-width="2.6" stroke-dasharray="3.2 10.25"/>
<line x1="408" y1="1544.6" x2="846" y2="1544.6" stroke="#000000" stroke-width="1.6" />
<polygon points="395.3,1544.6 412.7,1539.7 412.7,1549.5" fill="#000"/>
<polygon points="855.5,1544.6 838.1,1539.7 838.1,1549.5" fill="#000"/>
<text x="518" y="1607.6" font-size="49.7" text-anchor="start"  >visible range</text>
<text x="41" y="977" font-size="86.3" text-anchor="start"  >Au</text>
<text x="18.5" y="1099.8" font-size="76" text-anchor="start"  >b)</text>
<text transform="translate(545.8,1776.9) scale(1.090,1)" font-size="56.5">λ</text>
<text x="576.3" y="1792.2" font-size="38.5">0</text>
<text x="610.2" y="1776.9" font-size="55.6">[nm]</text>
<g transform="translate(116.4,1374.8) rotate(-90)">
<text transform="translate(-2.4,0) scale(1.170,1)" font-size="56" font-style="italic">δ</text>
<text transform="translate(23.1,16) scale(1.100,1)" font-size="38" font-style="italic">d</text>
<text x="57.4" y="0" font-size="54.8">[nm]</text>
</g>
<line x1="1418.5" y1="978.1" x2="1418.5" y2="1617" stroke="#000000" stroke-width="2.9" />
<line x1="1417" y1="1615.6" x2="2144.8" y2="1615.6" stroke="#000000" stroke-width="2.9" />
<line x1="1418.5" y1="1615.6" x2="1418.5" y2="1629" stroke="#000000" stroke-width="2.7" />
<text x="1418.5" y="1676.3" font-size="51.2" text-anchor="middle"  >200</text>
<line x1="1522.1" y1="1615.6" x2="1522.1" y2="1629" stroke="#000000" stroke-width="2.7" />
<text x="1522.1" y="1676.3" font-size="51.2" text-anchor="middle"  >300</text>
<line x1="1625.6" y1="1615.6" x2="1625.6" y2="1629" stroke="#000000" stroke-width="2.7" />
<text x="1625.6" y="1676.3" font-size="51.2" text-anchor="middle"  >400</text>
<line x1="1729.2" y1="1615.6" x2="1729.2" y2="1629" stroke="#000000" stroke-width="2.7" />
<text x="1729.2" y="1676.3" font-size="51.2" text-anchor="middle"  >500</text>
<line x1="1832.8" y1="1615.6" x2="1832.8" y2="1629" stroke="#000000" stroke-width="2.7" />
<text x="1832.8" y="1676.3" font-size="51.2" text-anchor="middle"  >600</text>
<line x1="1936.4" y1="1615.6" x2="1936.4" y2="1629" stroke="#000000" stroke-width="2.7" />
<text x="1936.4" y="1676.3" font-size="51.2" text-anchor="middle"  >700</text>
<line x1="2039.9" y1="1615.6" x2="2039.9" y2="1629" stroke="#000000" stroke-width="2.7" />
<text x="2039.9" y="1676.3" font-size="51.2" text-anchor="middle"  >800</text>
<line x1="2143.5" y1="1615.6" x2="2143.5" y2="1629" stroke="#000000" stroke-width="2.7" />
<text x="2143.5" y="1676.3" font-size="51.2" text-anchor="middle"  >900</text>
<line x1="1470.3" y1="1615.6" x2="1470.3" y2="1622" stroke="#000000" stroke-width="2.7" />
<line x1="1573.9" y1="1615.6" x2="1573.9" y2="1622" stroke="#000000" stroke-width="2.7" />
<line x1="1677.4" y1="1615.6" x2="1677.4" y2="1622" stroke="#000000" stroke-width="2.7" />
<line x1="1781" y1="1615.6" x2="1781" y2="1622" stroke="#000000" stroke-width="2.7" />
<line x1="1884.6" y1="1615.6" x2="1884.6" y2="1622" stroke="#000000" stroke-width="2.7" />
<line x1="1988.1" y1="1615.6" x2="1988.1" y2="1622" stroke="#000000" stroke-width="2.7" />
<line x1="2091.7" y1="1615.6" x2="2091.7" y2="1622" stroke="#000000" stroke-width="2.7" />
<line x1="1405.1" y1="1615.6" x2="1418.5" y2="1615.6" stroke="#000000" stroke-width="2.7" />
<text x="1396.3" y="1630.4" font-size="51.2" text-anchor="end"  >0</text>
<line x1="1405.1" y1="1456.6" x2="1418.5" y2="1456.6" stroke="#000000" stroke-width="2.7" />
<text x="1396.3" y="1471.4" font-size="51.2" text-anchor="end"  >200</text>
<line x1="1405.1" y1="1297.5" x2="1418.5" y2="1297.5" stroke="#000000" stroke-width="2.7" />
<text x="1396.3" y="1312.3" font-size="51.2" text-anchor="end"  >400</text>
<line x1="1405.1" y1="1138.5" x2="1418.5" y2="1138.5" stroke="#000000" stroke-width="2.7" />
<text x="1396.3" y="1153.3" font-size="51.2" text-anchor="end"  >600</text>
<line x1="1405.1" y1="979.5" x2="1418.5" y2="979.5" stroke="#000000" stroke-width="2.7" />
<text x="1396.3" y="994.3" font-size="51.2" text-anchor="end"  >800</text>
<line x1="1412.1" y1="1536.1" x2="1418.5" y2="1536.1" stroke="#000000" stroke-width="2.7" />
<line x1="1412.1" y1="1377.1" x2="1418.5" y2="1377.1" stroke="#000000" stroke-width="2.7" />
<line x1="1412.1" y1="1218" x2="1418.5" y2="1218" stroke="#000000" stroke-width="2.7" />
<line x1="1412.1" y1="1059" x2="1418.5" y2="1059" stroke="#000000" stroke-width="2.7" />
<path d="M1416.5,1458.1 L2022.2,993.1" fill="none" stroke="#000000" stroke-width="6.5" stroke-linejoin="round" stroke-dasharray="24.2 37.2" stroke-linecap="round" stroke-dashoffset="-3" clip-path="url(#clip4)"/>
<path d="M1414,1608.1 C1415.4,1607.3 1416.4,1606.8 1418.2,1605.8 C1421.7,1603.9 1427.8,1600.5 1433.5,1597.6 C1440.5,1593.9 1449.2,1589.6 1457.1,1585.6 C1464.9,1581.7 1472.8,1577.8 1480.6,1573.8 C1488.5,1569.7 1496.3,1565.6 1504.1,1561.3 C1512,1557 1519.8,1552.6 1527.6,1548.1 C1535.5,1543.6 1543.4,1538.9 1551.2,1534.1 C1559.1,1529.4 1566.9,1524.5 1574.7,1519.5 C1582.6,1514.5 1590.4,1509.4 1598.2,1504.3 C1606.1,1499 1614,1493.6 1621.8,1488.2 C1629.7,1482.7 1637.8,1476.9 1645.3,1471.4 C1652.3,1466.4 1658.3,1461.9 1665.3,1456.5 C1673.3,1450.5 1682.3,1443.5 1690.7,1436.7 C1699.2,1429.9 1707.6,1423 1716,1415.9 C1724.5,1408.7 1733,1401.4 1741.4,1393.9 C1749.9,1386.3 1758.3,1378.6 1766.7,1370.7 C1775.2,1362.7 1783.7,1354.6 1792.1,1346.2 C1800.6,1337.6 1809.2,1328.7 1817.4,1319.9 C1825.5,1311.2 1833.6,1302 1841,1293.6 C1847.7,1285.9 1853.2,1279.5 1859.9,1271.5 C1867.8,1262.1 1876.9,1251.1 1885.3,1240.8 C1893.8,1230.5 1902.2,1220.1 1910.6,1209.7 C1919.1,1199.3 1927.6,1188.9 1936,1178.3 C1944.5,1167.7 1953.2,1156.7 1961.3,1146.3 C1968.9,1136.4 1976,1127.1 1983.3,1117.3 C1990.7,1107.5 1997.7,1097.8 2005.3,1087.4 C2013.5,1076.1 2022.2,1063.8 2030.6,1051.9 C2039.1,1039.8 2048.2,1026.7 2056,1015.3 C2062.8,1005.4 2069.9,994.9 2075,987.4 C2078.4,982.5 2080.5,979.4 2083.5,974.9 C2087,969.8 2090.9,964 2094.6,958.5" fill="none" stroke="#000000" stroke-width="5" stroke-linejoin="round" stroke-linecap="butt" clip-path="url(#clip4)"/>
<path d="M1414,1608.1 C1415.4,1607.3 1416.4,1606.8 1418.2,1605.8 C1421.7,1603.9 1427.8,1600.5 1433.5,1597.6 C1440.5,1593.9 1449.2,1589.6 1457.1,1585.6 C1464.9,1581.7 1472.8,1577.8 1480.6,1573.8 C1488.5,1569.7 1496.3,1565.6 1504.1,1561.3 C1512,1557 1519.8,1552.6 1527.6,1548.1 C1535.5,1543.6 1543.4,1538.9 1551.2,1534.1 C1559.1,1529.4 1566.9,1524.5 1574.7,1519.5 C1582.6,1514.5 1590.4,1509.4 1598.2,1504.3 C1606.1,1499 1614,1493.6 1621.8,1488.2 C1629.7,1482.7 1637.8,1476.9 1645.3,1471.4 C1652.3,1466.4 1658.3,1461.9 1665.3,1456.5 C1673.3,1450.5 1682.3,1443.5 1690.7,1436.7 C1699.2,1429.9 1707.6,1423 1716,1415.9 C1724.5,1408.7 1733,1401.4 1741.4,1393.9 C1749.9,1386.3 1758.3,1378.6 1766.7,1370.7 C1775.2,1362.7 1783.7,1354.6 1792.1,1346.2 C1800.6,1337.6 1809.2,1328.7 1817.4,1319.9 C1825.5,1311.2 1833.6,1302 1841,1293.6 C1847.7,1285.9 1853.2,1279.5 1859.9,1271.5 C1867.8,1262.1 1876.9,1251.1 1885.3,1240.8 C1893.8,1230.5 1902.2,1220.1 1910.6,1209.7 C1919.1,1199.3 1927.6,1188.9 1936,1178.3 C1944.5,1167.7 1953.2,1156.7 1961.3,1146.3 C1968.9,1136.4 1976,1127.1 1983.3,1117.3 C1990.7,1107.5 1997.7,1097.8 2005.3,1087.4 C2013.5,1076.1 2022.2,1063.8 2030.6,1051.9 C2039.1,1039.8 2048.2,1026.7 2056,1015.3 C2062.8,1005.4 2069.9,994.9 2075,987.4 C2078.4,982.5 2080.5,979.4 2083.5,974.9 C2087,969.8 2090.9,964 2094.6,958.5" fill="none" stroke="#ff0000" stroke-width="6.6" stroke-linejoin="round" stroke-linecap="butt" clip-path="url(#clip4)"/>
<path d="M1524.7,1607.1 C1526,1604.7 1527.1,1602.2 1528.6,1599.8 C1530.1,1597.4 1531.4,1595.4 1533.5,1592.9 C1536.5,1589.3 1541.2,1584.2 1545.3,1580.7 C1549.1,1577.4 1553.2,1574.9 1557.1,1572.1 C1561,1569.2 1564.9,1566.3 1568.8,1563.4 C1572.7,1560.5 1576.7,1557.6 1580.6,1554.6 C1584.5,1551.6 1588.5,1548.6 1592.4,1545.6 C1596.3,1542.5 1600.2,1539.5 1604.1,1536.4 C1608,1533.3 1612,1530.2 1615.9,1527 C1619.8,1523.9 1623.3,1521.1 1627.6,1517.6 C1632.9,1513.4 1639.2,1508.3 1645.3,1503.4 C1651.8,1498.2 1658.2,1493 1665.3,1487.3 C1673.3,1480.8 1682.3,1473.5 1690.7,1466.5 C1699.2,1459.5 1707.6,1452.5 1716,1445.3 C1724.5,1438 1733,1430.7 1741.4,1423.2 C1749.9,1415.7 1758.3,1408.1 1766.7,1400.2 C1775.2,1392.3 1783.7,1384.2 1792.1,1376 C1800.6,1367.6 1809,1359.1 1817.4,1350.3 C1825.9,1341.4 1834.6,1331.9 1842.7,1322.7 C1850.6,1313.9 1857.7,1305.3 1865.5,1296.1 C1873.7,1286.3 1882.3,1275.8 1890.7,1265.7 C1899.1,1255.5 1907.6,1245.3 1916,1235.1 C1924.5,1224.8 1933.1,1214.4 1941.4,1204.2 C1949.5,1194.2 1957.4,1184.3 1965.3,1174.3 C1973.2,1164.3 1980.8,1154.4 1988.7,1143.9 C1997,1133 2005.9,1121 2014,1110 C2021.7,1099.5 2028.6,1089.9 2036.2,1079.3 C2044.4,1068 2053,1055.8 2061.4,1043.9 C2069.8,1031.9 2078.8,1019.1 2086.7,1007.7 C2093.7,997.6 2100.8,987.4 2106.6,979 C2111.1,972.6 2114.5,967.6 2118.5,961.9" fill="none" stroke="#006400" stroke-width="6.6" stroke-linejoin="round" stroke-linecap="round" clip-path="url(#clip4)"/>
<path d="M1414,1546.4 C1415.4,1545.8 1416.4,1545.5 1418.2,1544.7 C1421.7,1543.2 1428.3,1540.6 1433.5,1538.2 C1439.2,1535.6 1445.4,1532.6 1451.2,1529.4 C1457.1,1526.1 1463.6,1522.3 1468.8,1518.8 C1473.2,1515.8 1476.7,1513.1 1480.6,1510 C1484.6,1506.8 1488.4,1503.1 1492.4,1500 C1496.2,1497 1500.4,1493.7 1504.1,1491.6 C1507,1489.9 1509.5,1488.7 1512.4,1487.9 C1515.4,1487.1 1518.7,1486.9 1521.8,1486.8 C1524.9,1486.7 1528.2,1487.2 1531.2,1487.4 C1534,1487.6 1537,1487.5 1539.4,1488.2 C1541.6,1488.8 1543.7,1489.6 1545.3,1491.2 C1547.1,1493 1548.3,1495.9 1549.4,1498.8 C1550.7,1502.2 1551.5,1506.3 1552.4,1510.6 C1553.5,1515.9 1554.3,1522.1 1555.3,1528.2 C1556.3,1534.7 1557.4,1541.4 1558.5,1548.2 C1559.6,1555.2 1560.7,1563.4 1561.8,1569.4 C1562.6,1573.9 1562.9,1577.9 1564.1,1581.2 C1565,1583.7 1566.3,1587.4 1567.6,1587.6 C1568.7,1587.8 1570.1,1585.5 1571.2,1584.1 C1572.5,1582.3 1573.3,1579.9 1574.7,1577.6 C1576.4,1574.7 1578.6,1571.2 1580.6,1568.2 C1582.5,1565.3 1584.1,1563.1 1586.5,1560 C1589.7,1555.9 1594.2,1550.4 1598.2,1545.9 C1602,1541.6 1605.7,1538.3 1610,1533.7 C1615.3,1528 1621.7,1520.6 1627.6,1514.2 C1633.4,1507.9 1639.2,1501.9 1645.3,1495.7 C1651.7,1489.2 1658.2,1482.8 1665.3,1476 C1673.2,1468.5 1682.2,1460.3 1690.7,1452.5 C1699.1,1444.9 1707.6,1437.4 1716,1429.8 C1724.5,1422 1733,1414.3 1741.4,1406.2 C1749.9,1398.1 1758.3,1389.7 1766.7,1381.2 C1775.2,1372.5 1783.7,1363.5 1792.1,1354.4 C1800.6,1345.2 1808.9,1336 1817.4,1326.4 C1826.2,1316.5 1835.7,1305.6 1844,1296 C1851.5,1287.2 1857.9,1279.7 1865.3,1271 C1873.4,1261.4 1882.3,1250.9 1890.7,1240.8 C1899.2,1230.6 1907.6,1220.5 1916,1210.1 C1924.5,1199.7 1933,1189.2 1941.4,1178.6 C1949.9,1167.9 1958.6,1156.8 1966.7,1146.3 C1974.3,1136.4 1981.4,1127 1988.7,1117.3 C1996.1,1107.4 2003.2,1097.8 2010.7,1087.3 C2018.9,1076 2027.6,1063.7 2036,1051.7 C2044.5,1039.6 2053.6,1026.4 2061.4,1015.1 C2068.2,1005.2 2075.3,994.8 2080.4,987.4 C2083.8,982.4 2085.9,979.4 2088.9,974.9 C2092.4,969.9 2096.3,964.2 2100,958.8" fill="none" stroke="#0000ff" stroke-width="6.6" stroke-linejoin="round" stroke-linecap="butt" clip-path="url(#clip4)"/>
<line x1="1627.3" y1="1270.3" x2="1627.3" y2="1614.1" stroke="#000" stroke-width="2.9" stroke-dasharray="3.2 10.25"/>
<line x1="2020.8" y1="1113.5" x2="2020.8" y2="1614.1" stroke="#000" stroke-width="2.2" stroke-dasharray="3.2 10.25"/>
<line x1="1640" y1="1578.7" x2="1688" y2="1578.7" stroke="#000000" stroke-width="2" />
<polygon points="1627.7,1578.7 1645,1573.8 1645,1583.6" fill="#000"/>
<line x1="1942" y1="1578.7" x2="2008" y2="1578.7" stroke="#000000" stroke-width="2" />
<polygon points="2020.8,1578.7 2003.5,1573.8 2003.5,1583.6" fill="#000"/>
<text x="1690.6" y="1588.3" font-size="49.7" text-anchor="start"  >visible range</text>
<text x="1201.9" y="990.1" font-size="85.5" text-anchor="start"  >Ag</text>
<text transform="translate(1694.7,1766.9) scale(1.090,1)" font-size="56.5">λ</text>
<text x="1725.2" y="1782.2" font-size="38.5">0</text>
<text x="1759.1" y="1766.9" font-size="55.6">[nm]</text>
<g transform="translate(1265.5,1360.3) rotate(-90)">
<text transform="translate(-2.4,0) scale(1.170,1)" font-size="56" font-style="italic">δ</text>
<text transform="translate(23.1,16) scale(1.100,1)" font-size="38" font-style="italic">d</text>
<text x="57.4" y="0" font-size="54.8">[nm]</text>
</g>
<line x1="1439.8" y1="1029.3" x2="1548.9" y2="1029.3" stroke="#000000" stroke-width="8" stroke-linecap="round"/>
<line x1="1439.2" y1="1108.1" x2="1549.6" y2="1108.1" stroke="#ff0000" stroke-width="6.6" stroke-linecap="round"/>
<line x1="1439.2" y1="1176.3" x2="1549.6" y2="1176.3" stroke="#006400" stroke-width="6.6" stroke-linecap="round"/>
<line x1="1439.2" y1="1243.4" x2="1549.6" y2="1243.4" stroke="#0000ff" stroke-width="6.6" stroke-linecap="round"/>
<text transform="translate(1503.5,967.6) scale(1.260,1)" font-size="49" font-style="italic">δ</text>
<text x="1525.9" y="980.6" font-size="34.5" font-style="italic">d</text>
<text x="1570" y="967.6" font-size="49.3">for:</text>
<text transform="translate(1564.5,1044.4) scale(1.300,1)" font-size="46" font-style="italic">ε</text>
<text x="1584.3" y="1023.3" font-size="30" font-style="italic" letter-spacing="2.3">free</text>
<text x="1635.8" y="1043.9" font-size="50">(γ = 0)</text>
<text transform="translate(1564.5,1123.8) scale(1.300,1)" font-size="46" font-style="italic">ε</text>
<text x="1584.3" y="1102.6" font-size="30" font-style="italic" letter-spacing="2.3">free</text>
<text transform="translate(1564.5,1192) scale(1.300,1)" font-size="46" font-style="italic">ε</text>
<text x="1585" y="1170.9" font-size="30" font-style="italic" letter-spacing="2">eff</text>
<text transform="translate(1564.5,1259.9) scale(1.300,1)" font-size="46" font-style="italic">ε</text>
<text transform="translate(1582.7,1272.8) scale(1.030,1)" font-size="32.5" font-style="italic">m</text>
<rect x="1806" y="1002" width="182" height="62" fill="#fff"/>
<line x1="1820.3" y1="1029.3" x2="1910" y2="1029.3" stroke="#000000" stroke-width="7" stroke-linecap="round" stroke-dasharray="24 37.6"/>
<text transform="translate(1943.4,1045.8) scale(1.090,1)" font-size="49">λ</text>
<text x="1969.1" y="1059" font-size="32">0</text>
</svg>
</body>
</html>
